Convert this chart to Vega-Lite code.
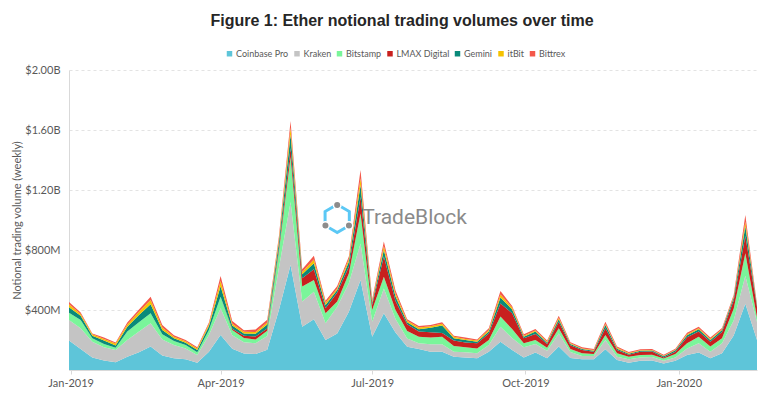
{
  "$schema": "https://vega.github.io/schema/vega-lite/v6.json",
  "width": 688,
  "height": 300,
  "autosize": {"type": "none"},
  "padding": {"left": 69, "top": 70, "right": 14, "bottom": 29},
  "background": "white",
  "title": {
    "text": "Figure 1: Ether notional trading volumes over time",
    "font": "Liberation Sans",
    "fontSize": 16,
    "fontWeight": "bold",
    "color": "#262626",
    "anchor": "middle",
    "frame": "group",
    "dx": -11,
    "offset": 20
  },
  "config": {
    "view": {"stroke": null},
    "axis": {"labelFont": "Lato", "titleFont": "Lato", "labelColor": "#595959", "titleColor": "#595959"}
  },
  "layer": [
    {
      "data": {
        "values": [
          {"week": "2018-12-31", "Coinbase Pro": 196, "Kraken": 137, "Bitstamp": 49, "LMAX Digital": 0, "Gemini": 36, "itBit": 20, "Bittrex": 15},
          {"week": "2019-01-07", "Coinbase Pro": 140, "Kraken": 138, "Bitstamp": 55, "LMAX Digital": 0, "Gemini": 29, "itBit": 11, "Bittrex": 11},
          {"week": "2019-01-14", "Coinbase Pro": 84, "Kraken": 105, "Bitstamp": 22, "LMAX Digital": 0, "Gemini": 18, "itBit": 9, "Bittrex": 6},
          {"week": "2019-01-21", "Coinbase Pro": 64, "Kraken": 87, "Bitstamp": 22, "LMAX Digital": 0, "Gemini": 23, "itBit": 11, "Bittrex": 9},
          {"week": "2019-01-28", "Coinbase Pro": 51, "Kraken": 82, "Bitstamp": 16, "LMAX Digital": 0, "Gemini": 15, "itBit": 12, "Bittrex": 8},
          {"week": "2019-02-04", "Coinbase Pro": 89, "Kraken": 111, "Bitstamp": 56, "LMAX Digital": 0, "Gemini": 33, "itBit": 15, "Bittrex": 12},
          {"week": "2019-02-11", "Coinbase Pro": 118, "Kraken": 138, "Bitstamp": 62, "LMAX Digital": 0, "Gemini": 49, "itBit": 22, "Bittrex": 15},
          {"week": "2019-02-18", "Coinbase Pro": 156, "Kraken": 155, "Bitstamp": 67, "LMAX Digital": 0, "Gemini": 60, "itBit": 28, "Bittrex": 23},
          {"week": "2019-02-25", "Coinbase Pro": 96, "Kraken": 108, "Bitstamp": 34, "LMAX Digital": 0, "Gemini": 29, "itBit": 17, "Bittrex": 16},
          {"week": "2019-03-04", "Coinbase Pro": 78, "Kraken": 89, "Bitstamp": 26, "LMAX Digital": 0, "Gemini": 18, "itBit": 11, "Bittrex": 9},
          {"week": "2019-03-11", "Coinbase Pro": 71, "Kraken": 73, "Bitstamp": 23, "LMAX Digital": 0, "Gemini": 15, "itBit": 9, "Bittrex": 9},
          {"week": "2019-03-18", "Coinbase Pro": 49, "Kraken": 51, "Bitstamp": 18, "LMAX Digital": 0, "Gemini": 15, "itBit": 11, "Bittrex": 8},
          {"week": "2019-03-25", "Coinbase Pro": 122, "Kraken": 111, "Bitstamp": 34, "LMAX Digital": 0, "Gemini": 26, "itBit": 14, "Bittrex": 9},
          {"week": "2019-04-01", "Coinbase Pro": 233, "Kraken": 178, "Bitstamp": 78, "LMAX Digital": 0, "Gemini": 70, "itBit": 35, "Bittrex": 33},
          {"week": "2019-04-08", "Coinbase Pro": 142, "Kraken": 90, "Bitstamp": 35, "LMAX Digital": 8, "Gemini": 22, "itBit": 12, "Bittrex": 18},
          {"week": "2019-04-15", "Coinbase Pro": 110, "Kraken": 75, "Bitstamp": 28, "LMAX Digital": 15, "Gemini": 16, "itBit": 11, "Bittrex": 10},
          {"week": "2019-04-22", "Coinbase Pro": 107, "Kraken": 72, "Bitstamp": 25, "LMAX Digital": 20, "Gemini": 18, "itBit": 12, "Bittrex": 16},
          {"week": "2019-04-29", "Coinbase Pro": 135, "Kraken": 92, "Bitstamp": 34, "LMAX Digital": 16, "Gemini": 26, "itBit": 14, "Bittrex": 18},
          {"week": "2019-05-06", "Coinbase Pro": 400, "Kraken": 280, "Bitstamp": 110, "LMAX Digital": 20, "Gemini": 40, "itBit": 20, "Bittrex": 20},
          {"week": "2019-05-13", "Coinbase Pro": 700, "Kraken": 420, "Bitstamp": 300, "LMAX Digital": 60, "Gemini": 90, "itBit": 45, "Bittrex": 45},
          {"week": "2019-05-20", "Coinbase Pro": 289, "Kraken": 167, "Bitstamp": 100, "LMAX Digital": 55, "Gemini": 27, "itBit": 15, "Bittrex": 18},
          {"week": "2019-05-27", "Coinbase Pro": 338, "Kraken": 184, "Bitstamp": 78, "LMAX Digital": 71, "Gemini": 40, "itBit": 25, "Bittrex": 26},
          {"week": "2019-06-03", "Coinbase Pro": 200, "Kraken": 111, "Bitstamp": 67, "LMAX Digital": 33, "Gemini": 22, "itBit": 16, "Bittrex": 13},
          {"week": "2019-06-10", "Coinbase Pro": 244, "Kraken": 178, "Bitstamp": 34, "LMAX Digital": 60, "Gemini": 17, "itBit": 11, "Bittrex": 16},
          {"week": "2019-06-17", "Coinbase Pro": 389, "Kraken": 189, "Bitstamp": 66, "LMAX Digital": 45, "Gemini": 33, "itBit": 18, "Bittrex": 16},
          {"week": "2019-06-24", "Coinbase Pro": 600, "Kraken": 244, "Bitstamp": 200, "LMAX Digital": 110, "Gemini": 80, "itBit": 45, "Bittrex": 54},
          {"week": "2019-07-01", "Coinbase Pro": 222, "Kraken": 100, "Bitstamp": 78, "LMAX Digital": 33, "Gemini": 16, "itBit": 9, "Bittrex": 13},
          {"week": "2019-07-08", "Coinbase Pro": 378, "Kraken": 166, "Bitstamp": 78, "LMAX Digital": 134, "Gemini": 44, "itBit": 27, "Bittrex": 29},
          {"week": "2019-07-15", "Coinbase Pro": 250, "Kraken": 90, "Bitstamp": 60, "LMAX Digital": 60, "Gemini": 30, "itBit": 18, "Bittrex": 22},
          {"week": "2019-07-22", "Coinbase Pro": 155, "Kraken": 55, "Bitstamp": 50, "LMAX Digital": 45, "Gemini": 13, "itBit": 10, "Bittrex": 10},
          {"week": "2019-07-29", "Coinbase Pro": 140, "Kraken": 38, "Bitstamp": 44, "LMAX Digital": 34, "Gemini": 15, "itBit": 13, "Bittrex": 9},
          {"week": "2019-08-05", "Coinbase Pro": 122, "Kraken": 50, "Bitstamp": 45, "LMAX Digital": 35, "Gemini": 30, "itBit": 10, "Bittrex": 8},
          {"week": "2019-08-12", "Coinbase Pro": 122, "Kraken": 50, "Bitstamp": 50, "LMAX Digital": 25, "Gemini": 50, "itBit": 12, "Bittrex": 9},
          {"week": "2019-08-19", "Coinbase Pro": 89, "Kraken": 33, "Bitstamp": 38, "LMAX Digital": 36, "Gemini": 15, "itBit": 11, "Bittrex": 7},
          {"week": "2019-08-26", "Coinbase Pro": 84, "Kraken": 34, "Bitstamp": 33, "LMAX Digital": 33, "Gemini": 16, "itBit": 7, "Bittrex": 9},
          {"week": "2019-09-02", "Coinbase Pro": 78, "Kraken": 33, "Bitstamp": 33, "LMAX Digital": 34, "Gemini": 11, "itBit": 7, "Bittrex": 8},
          {"week": "2019-09-09", "Coinbase Pro": 122, "Kraken": 45, "Bitstamp": 33, "LMAX Digital": 44, "Gemini": 12, "itBit": 11, "Bittrex": 11},
          {"week": "2019-09-16", "Coinbase Pro": 189, "Kraken": 100, "Bitstamp": 67, "LMAX Digital": 88, "Gemini": 40, "itBit": 20, "Bittrex": 23},
          {"week": "2019-09-23", "Coinbase Pro": 133, "Kraken": 80, "Bitstamp": 60, "LMAX Digital": 105, "Gemini": 26, "itBit": 12, "Bittrex": 11},
          {"week": "2019-09-30", "Coinbase Pro": 84, "Kraken": 67, "Bitstamp": 27, "LMAX Digital": 33, "Gemini": 11, "itBit": 7, "Bittrex": 9},
          {"week": "2019-10-07", "Coinbase Pro": 116, "Kraken": 57, "Bitstamp": 27, "LMAX Digital": 40, "Gemini": 16, "itBit": 8, "Bittrex": 9},
          {"week": "2019-10-14", "Coinbase Pro": 78, "Kraken": 51, "Bitstamp": 20, "LMAX Digital": 24, "Gemini": 9, "itBit": 7, "Bittrex": 7},
          {"week": "2019-10-21", "Coinbase Pro": 156, "Kraken": 88, "Bitstamp": 34, "LMAX Digital": 44, "Gemini": 16, "itBit": 11, "Bittrex": 13},
          {"week": "2019-10-28", "Coinbase Pro": 80, "Kraken": 40, "Bitstamp": 20, "LMAX Digital": 25, "Gemini": 8, "itBit": 6, "Bittrex": 6},
          {"week": "2019-11-04", "Coinbase Pro": 71, "Kraken": 22, "Bitstamp": 18, "LMAX Digital": 22, "Gemini": 7, "itBit": 4, "Bittrex": 7},
          {"week": "2019-11-11", "Coinbase Pro": 71, "Kraken": 22, "Bitstamp": 14, "LMAX Digital": 15, "Gemini": 7, "itBit": 4, "Bittrex": 7},
          {"week": "2019-11-18", "Coinbase Pro": 138, "Kraken": 62, "Bitstamp": 33, "LMAX Digital": 45, "Gemini": 22, "itBit": 7, "Bittrex": 15},
          {"week": "2019-11-25", "Coinbase Pro": 67, "Kraken": 22, "Bitstamp": 22, "LMAX Digital": 22, "Gemini": 9, "itBit": 7, "Bittrex": 7},
          {"week": "2019-12-02", "Coinbase Pro": 49, "Kraken": 22, "Bitstamp": 18, "LMAX Digital": 13, "Gemini": 7, "itBit": 4, "Bittrex": 7},
          {"week": "2019-12-09", "Coinbase Pro": 62, "Kraken": 22, "Bitstamp": 16, "LMAX Digital": 22, "Gemini": 6, "itBit": 4, "Bittrex": 6},
          {"week": "2019-12-16", "Coinbase Pro": 64, "Kraken": 22, "Bitstamp": 16, "LMAX Digital": 22, "Gemini": 6, "itBit": 4, "Bittrex": 6},
          {"week": "2019-12-23", "Coinbase Pro": 44, "Kraken": 18, "Bitstamp": 14, "LMAX Digital": 8, "Gemini": 7, "itBit": 4, "Bittrex": 7},
          {"week": "2019-12-30", "Coinbase Pro": 62, "Kraken": 22, "Bitstamp": 22, "LMAX Digital": 16, "Gemini": 9, "itBit": 4, "Bittrex": 7},
          {"week": "2020-01-06", "Coinbase Pro": 100, "Kraken": 44, "Bitstamp": 34, "LMAX Digital": 40, "Gemini": 13, "itBit": 7, "Bittrex": 11},
          {"week": "2020-01-13", "Coinbase Pro": 116, "Kraken": 62, "Bitstamp": 44, "LMAX Digital": 34, "Gemini": 15, "itBit": 7, "Bittrex": 11},
          {"week": "2020-01-20", "Coinbase Pro": 78, "Kraken": 44, "Bitstamp": 34, "LMAX Digital": 33, "Gemini": 11, "itBit": 7, "Bittrex": 9},
          {"week": "2020-01-27", "Coinbase Pro": 111, "Kraken": 67, "Bitstamp": 33, "LMAX Digital": 42, "Gemini": 14, "itBit": 4, "Bittrex": 9},
          {"week": "2020-02-03", "Coinbase Pro": 230, "Kraken": 100, "Bitstamp": 78, "LMAX Digital": 55, "Gemini": 18, "itBit": 8, "Bittrex": 11},
          {"week": "2020-02-10", "Coinbase Pro": 442, "Kraken": 186, "Bitstamp": 150, "LMAX Digital": 115, "Gemini": 65, "itBit": 30, "Bittrex": 45},
          {"week": "2020-02-17", "Coinbase Pro": 200, "Kraken": 120, "Bitstamp": 30, "LMAX Digital": 70, "Gemini": 10, "itBit": 3, "Bittrex": 7}
        ]
      },
      "transform": [
        {"fold": ["Coinbase Pro", "Kraken", "Bitstamp", "LMAX Digital", "Gemini", "itBit", "Bittrex"], "as": ["exchange", "volume"]},
        {"window": [{"op": "row_number", "as": "stackRank"}], "groupby": ["week"]}
      ],
      "mark": {"type": "area", "interpolate": "linear"},
      "encoding": {
        "x": {
          "field": "week",
          "type": "temporal",
          "scale": {"type": "utc", "domain": [{"year": 2018, "month": 12, "date": 31, "utc": true}, {"year": 2020, "month": 2, "date": 17, "utc": true}]},
          "axis": {
            "values": [
              {"year": 2019, "month": 1, "date": 1, "utc": true},
              {"year": 2019, "month": 4, "date": 1, "utc": true},
              {"year": 2019, "month": 7, "date": 1, "utc": true},
              {"year": 2019, "month": 10, "date": 1, "utc": true},
              {"year": 2020, "month": 1, "date": 1, "utc": true}
            ],
            "format": "%b-%Y",
            "title": null,
            "grid": false,
            "labelFontSize": 11,
            "labelPadding": 3,
            "tickSize": 4,
            "tickColor": "#d9d9d9",
            "domainColor": "#d9d9d9"
          }
        },
        "y": {
          "field": "volume",
          "type": "quantitative",
          "stack": "zero",
          "scale": {"domain": [0, 2000], "nice": false},
          "axis": {
            "values": [0, 400, 800, 1200, 1600, 2000],
            "labelExpr": "datum.value >= 1000 ? '$' + format(datum.value / 1000, '.2f') + 'B' : (datum.value == 0 ? '' : '$' + datum.value + 'M')",
            "title": "Notional trading volume (weekly)",
            "titleFontSize": 11,
            "titleFontWeight": "normal",
            "titlePadding": 2,
            "labelFontSize": 11,
            "labelPadding": 9,
            "ticks": false,
            "domainColor": "#d9d9d9",
            "gridColor": "#e3e3e3",
            "gridDash": [3, 3]
          }
        },
        "order": {"field": "stackRank", "type": "quantitative", "sort": "ascending"},
        "color": {
          "field": "exchange",
          "type": "nominal",
          "sort": ["Coinbase Pro", "Kraken", "Bitstamp", "LMAX Digital", "Gemini", "itBit", "Bittrex"],
          "scale": {
            "domain": ["Coinbase Pro", "Kraken", "Bitstamp", "LMAX Digital", "Gemini", "itBit", "Bittrex"],
            "range": ["#5ec5d9", "#c4c4c4", "#7af59a", "#c8201e", "#0a8a7a", "#f5c200", "#f4584a"]
          },
          "legend": {
            "orient": "none",
            "legendX": 156,
            "legendY": -21,
            "direction": "horizontal",
            "title": null,
            "symbolType": "square",
            "symbolSize": 30,
            "symbolStrokeWidth": 0,
            "labelFont": "Lato",
            "labelFontSize": 9,
            "labelColor": "#595959",
            "labelOffset": 2,
            "columnPadding": 3.5
          }
        }
      }
    },
    {
      "data": {"values": [{}]},
      "mark": {"type": "text", "text": "TradeBlock", "align": "left", "baseline": "middle", "font": "Roboto", "fontSize": 21, "color": "#8a8a8a"},
      "encoding": {
        "x": {"datum": {"year": 2019, "month": 6, "date": 25, "utc": true}, "type": "temporal"},
        "y": {"datum": 1013, "type": "quantitative"}
      }
    },
    {
      "data": {"values": [{}]},
      "mark": {"type": "point", "shape": "M0,-1L0.866,-0.5L0.866,0.5L0,1L-0.866,0.5L-0.866,-0.5Z", "size": 784, "filled": false, "stroke": "#5bc8f5", "strokeWidth": 3, "opacity": 1},
      "encoding": {
        "x": {"datum": {"year": 2019, "month": 6, "date": 10, "utc": true}, "type": "temporal"},
        "y": {"datum": 1010, "type": "quantitative"}
      }
    },
    {
      "data": {"values": [{}]},
      "mark": {"type": "point", "shape": "M-0.27,-0.97A0.27,0.27,0,1,0,0.27,-0.97A0.27,0.27,0,1,0,-0.27,-0.97ZM-1.11,0.5A0.27,0.27,0,1,0,-0.57,0.5A0.27,0.27,0,1,0,-1.11,0.5ZM0.57,0.5A0.27,0.27,0,1,0,1.11,0.5A0.27,0.27,0,1,0,0.57,0.5Z", "size": 784, "filled": true, "fill": "#8c8c8c", "stroke": "white", "strokeWidth": 1.5, "opacity": 1},
      "encoding": {
        "x": {"datum": {"year": 2019, "month": 6, "date": 10, "utc": true}, "type": "temporal"},
        "y": {"datum": 1010, "type": "quantitative"}
      }
    }
  ]
}
